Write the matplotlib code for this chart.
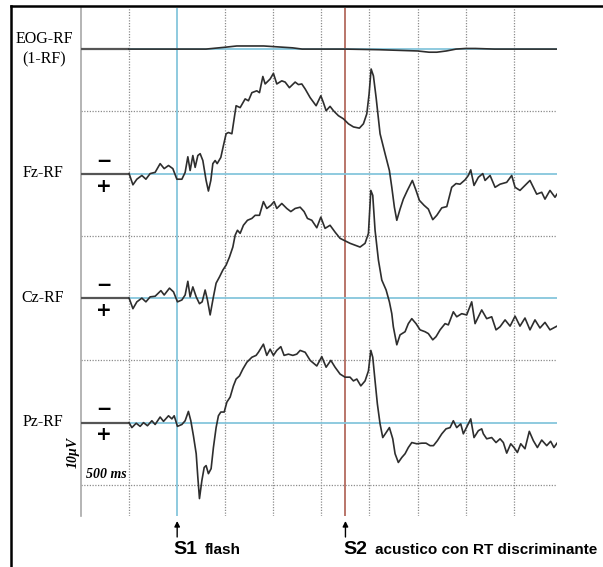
import matplotlib
matplotlib.use("Agg")
import matplotlib.pyplot as plt
from matplotlib.lines import Line2D

# Averaged ERPs (CNV paradigm): time in ms from S1, amplitude in microvolts,
# plotted with negative up.
s1_time = 0
s2_time = 1750
grid_times = [-500, 500, 1000, 1500, 2000, 2500, 3000, 3500]
half_div_uv = [10, 30, 50, 70]

eog_t = [-500, 0, 300, 500, 620, 900, 1100, 1200, 1300, 1750, 2100, 2300,
         2500, 2620, 2700, 2800, 2900, 3000, 3100, 3300, 3950]
eog_uv = [0.0, 0.0, 0.0, -0.3, -0.5, -0.5, -0.3, -0.2, 0.0, 0.0, 0.1, 0.2,
          0.3, 0.5, 0.5, 0.3, 0.0, -0.1, -0.1, 0.0, 0.0]

fz_t = [-500, -460, -419, -367, -325, -281, -229, -177, -135, -90, -45, -3,
        49, 83, 111, 135, 163, 187, 215, 239, 267, 301, 325, 350, 371, 395,
        416, 454, 481, 509, 533, 569, 613, 655, 707, 741, 777, 828, 856, 891,
        915, 967, 1001, 1036, 1088, 1123, 1167, 1227, 1261, 1296, 1331, 1383,
        1445, 1494, 1521, 1549, 1590, 1625, 1677, 1729, 1781, 1833, 1895, 1937,
        1972, 1996, 2017, 2041, 2069, 2110, 2162, 2207, 2232, 2259, 2284, 2318,
        2352, 2394, 2446, 2484, 2519, 2568, 2612, 2658, 2700, 2752, 2804, 2855,
        2900, 2942, 2994, 3028, 3053, 3087, 3132, 3178, 3202, 3254, 3306, 3358,
        3427, 3479, 3514, 3565, 3617, 3669, 3704, 3739, 3791, 3825, 3877, 3929,
        3950]
fz_uv = [0.0, 1.8, 0.9, 0.3, 0.9, 0.0, -0.2, -1.6, -0.8, -1.3, -0.8, 0.9,
         0.9, -0.2, -2.7, -0.5, -2.9, -1.0, -2.9, -3.2, -2.1, 1.1, 2.8, 1.1,
         -1.6, -2.1, -1.6, -2.6, -4.5, -6.4, -6.6, -6.4, -10.9, -10.6, -12.0,
         -11.7, -13.0, -13.3, -13.0, -15.6, -14.4, -15.2, -16.1, -14.4, -14.9,
         -14.7, -13.8, -14.7, -14.3, -14.4, -13.6, -12.2, -10.9, -12.5, -11.4,
         -10.1, -10.8, -10.1, -9.3, -8.8, -8.0, -7.5, -7.3, -8.0, -9.6, -12.8,
         -16.8, -15.7, -12.2, -6.4, -3.2, -0.5, 2.2, 5.4, 7.5, 5.7, 4.1, 2.7,
         1.1, 2.7, 4.3, 5.1, 5.7, 7.4, 6.7, 5.5, 5.3, 2.2, 1.6, 1.7, 1.0, 0.3,
         -0.6, 1.9, 0.6, 0.0, 1.1, 0.3, 2.2, 1.7, 1.4, 0.3, 2.2, 2.7, 1.9, 1.1,
         2.2, 3.3, 3.0, 4.1, 2.7, 3.8, 3.3]

cz_t = [-500, -460, -419, -367, -325, -281, -229, -169, -135, -80, -38, 3,
        49, 83, 111, 135, 163, 198, 232, 260, 291, 315, 343, 377, 405, 440,
        475, 509, 544, 579, 603, 627, 655, 689, 731, 777, 811, 856, 897, 932,
        974, 1008, 1036, 1088, 1140, 1182, 1227, 1279, 1320, 1355, 1400, 1452,
        1494, 1538, 1590, 1642, 1694, 1746, 1798, 1850, 1902, 1954, 1989, 2014,
        2034, 2058, 2093, 2128, 2173, 2207, 2232, 2248, 2284, 2318, 2370, 2404,
        2440, 2484, 2526, 2578, 2612, 2658, 2692, 2734, 2786, 2820, 2872, 2907,
        2959, 3011, 3063, 3098, 3167, 3219, 3271, 3316, 3358, 3410, 3462, 3514,
        3565, 3617, 3669, 3721, 3773, 3825, 3877, 3950]
cz_uv = [0.0, 1.7, 0.6, 0.0, 0.6, -0.2, -0.3, -1.2, -0.5, -1.6, -1.0, 0.6,
         0.3, -0.5, -2.7, -0.2, -1.8, -0.2, 0.9, 0.6, -1.3, 0.3, 2.7, -0.2,
         -2.4, -3.4, -4.5, -5.3, -6.6, -8.2, -10.1, -10.9, -10.4, -11.7, -12.5,
         -12.8, -13.3, -13.3, -15.5, -14.4, -14.9, -15.5, -14.4, -15.2, -14.4,
         -13.9, -14.4, -14.6, -13.9, -12.8, -12.5, -11.3, -13.0, -11.2, -11.7,
         -10.6, -9.6, -9.2, -8.8, -8.5, -8.2, -8.8, -10.4, -17.3, -16.5, -10.9,
         -6.1, -2.9, -1.3, 0.6, 2.5, 4.6, 7.5, 5.9, 5.4, 4.1, 3.3, 4.1, 5.1,
         5.4, 5.7, 6.7, 6.2, 5.1, 4.1, 4.3, 2.2, 3.0, 2.5, 2.7, 0.6, 4.1, 1.9,
         3.3, 3.0, 5.1, 4.6, 3.5, 4.5, 2.9, 4.5, 3.2, 5.1, 3.5, 4.8, 3.9, 5.1,
         4.5]

pz_t = [-500, -471, -426, -385, -350, -309, -263, -229, -177, -142, -90, -55,
        -31, 3, 49, 83, 117, 142, 169, 198, 215, 232, 257, 281, 301, 325, 353,
        377, 405, 429, 454, 489, 517, 551, 585, 613, 648, 683, 725, 777, 821,
        845, 897, 932, 967, 1001, 1036, 1078, 1112, 1157, 1203, 1244, 1279,
        1331, 1383, 1452, 1504, 1549, 1598, 1642, 1694, 1746, 1798, 1833, 1868,
        1910, 1954, 1989, 2014, 2034, 2058, 2082, 2110, 2138, 2173, 2207, 2242,
        2266, 2300, 2336, 2370, 2404, 2440, 2492, 2544, 2588, 2630, 2665, 2706,
        2752, 2796, 2838, 2872, 2907, 2949, 2976, 3018, 3053, 3087, 3132, 3167,
        3184, 3219, 3271, 3316, 3358, 3392, 3427, 3469, 3503, 3538, 3573, 3617,
        3662, 3704, 3746, 3791, 3843, 3884, 3918, 3950]
pz_uv = [0.0, 0.8, 0.1, 0.6, 0.0, 0.5, -0.3, 0.3, -0.9, -0.2, -1.1, -0.6,
         -1.1, 0.6, 0.3, -0.3, -1.8, -0.3, 2.1, 5.0, 8.8, 12.2, 9.3, 7.2, 6.9,
         8.2, 7.4, 4.0, 0.8, -1.1, -1.7, -1.7, -3.3, -4.1, -5.9, -7.0, -7.5,
         -8.6, -9.7, -10.5, -10.8, -11.3, -12.6, -10.8, -11.8, -10.8, -11.6,
         -12.2, -10.8, -11.0, -10.8, -11.0, -11.6, -11.3, -10.0, -9.1, -10.6,
         -8.9, -10.0, -8.9, -7.8, -7.3, -7.3, -6.7, -7.0, -5.9, -6.7, -8.3,
         -11.6, -10.5, -6.7, -3.0, 0.2, 2.4, 1.6, 0.8, 2.6, 5.0, 6.4, 5.6, 5.0,
         4.0, 3.2, 3.4, 3.3, 3.3, 3.7, 3.7, 2.9, 1.8, 1.0, 0.8, -0.3, 0.8, 0.2,
         1.8, 0.5, -0.6, 2.4, 1.3, 1.0, 1.8, 2.6, 2.4, 3.2, 2.6, 3.2, 4.9, 3.4,
         4.0, 4.8, 3.4, 4.2, 1.4, 2.9, 4.0, 2.8, 3.7, 3.0, 4.0, 3.3]

labels = ["EOG-RF\n(1-RF)", "Fz-RF", "Cz-RF", "Pz-RF"]
traces = [(eog_t, eog_uv), (fz_t, fz_uv), (cz_t, cz_uv), (pz_t, pz_uv)]
offsets = [0, 20, 40, 60]

W, H = 603, 567
BLUE = "#86c6dc"
GRID = "#8c8c8c"
TRACE = "#2e2e2e"


def fx(px):
    return px / W


def fy(py):
    return 1 - py / H


fig = plt.figure(figsize=(W / 100, H / 100), dpi=100)
ax = fig.add_axes([fx(81), fy(516), fx(557) - fx(81), fy(8) - fy(516)])
ax.set_xlim(-1000, 3950)
ax.set_ylim(75, -6.6)
ax.axis("off")

# grid: dotted divisions, solid edge on the left, stimulus markers
for t in grid_times:
    ax.axvline(t, color=GRID, lw=0.9, ls=(0, (1, 1.2)), zorder=1)
for y in half_div_uv:
    ax.axhline(y, color=GRID, lw=0.9, ls=(0, (1, 1.2)), zorder=1)
ax.axvline(-1000, color="#a8a8a8", lw=1.2, clip_on=False, zorder=1)
ax.axvline(s1_time, color=BLUE, lw=1.3, zorder=2)
ax.axvline(s2_time, color="#b36a5e", lw=1.3, zorder=2)

ax.hlines(offsets, -500, 3950, color=BLUE, lw=1.3, zorder=2)
ax.hlines(offsets, -1000, -500, color="#555555", lw=1.6, zorder=3)

for (t, uv), off in zip(traces, offsets):
    ax.plot(t, [off + v for v in uv], color=TRACE, lw=1.2, zorder=4,
            solid_joinstyle="round")

# channel names and polarity marks
base_px = [49, 173, 298, 422]
for i, (name, by) in enumerate(zip(labels, base_px)):
    if i == 0:
        fig.text(fx(44), fy(39), "EOG-RF", ha="center", va="center",
                 family="Liberation Serif", size=11.5)
        fig.text(fx(44), fy(59), "(1-RF)", ha="center", va="center",
                 family="Liberation Serif", size=11.5)
        continue
    fig.text(fx(43), fy(by), name, ha="center", va="center",
             family="Liberation Serif", size=11.5)
    fig.text(fx(104), fy(by - 13), "\u2013", ha="center", va="center",
             family="Liberation Sans", weight="bold", size=17)
    fig.text(fx(104), fy(by + 13), "+", ha="center", va="center",
             family="DejaVu Sans", weight="bold", size=13.5)

fig.text(fx(73), fy(452), "10\u03bcV", ha="center", va="center", rotation=90,
         family="Liberation Serif", style="italic", weight="bold", size=10)
fig.text(fx(106), fy(474), "500 ms", ha="center", va="center",
         family="Liberation Serif", style="italic", weight="bold", size=10)

# stimulus arrows and captions
for t in (s1_time, s2_time):
    ax.annotate("", xy=(t, fy(521)), xytext=(t, fy(537)),
                xycoords=("data", "figure fraction"),
                textcoords=("data", "figure fraction"),
                arrowprops=dict(arrowstyle="-|>", color="k", lw=1,
                                mutation_scale=8, shrinkA=0, shrinkB=0))

fig.text(fx(173), fy(554), "S1", ha="left", va="baseline",
         family="Liberation Sans", weight="bold", size=14)
fig.text(fx(205), fy(554), "flash", ha="left", va="baseline",
         family="Liberation Sans", weight="bold", size=11)
fig.text(fx(343), fy(554), "S2", ha="left", va="baseline",
         family="Liberation Sans", weight="bold", size=14)
fig.text(fx(375), fy(554), "acustico con RT discriminante", ha="left",
         va="baseline", family="Liberation Sans", weight="bold", size=11)

# outer frame: top and left edges only
fig.add_artist(Line2D([fx(11), 1], [fy(6), fy(6)], transform=fig.transFigure,
                      color="k", lw=1.8))
fig.add_artist(Line2D([fx(11), fx(11)], [fy(6), 0], transform=fig.transFigure,
                      color="k", lw=1.8))

fig.savefig("out.png", dpi=100)
